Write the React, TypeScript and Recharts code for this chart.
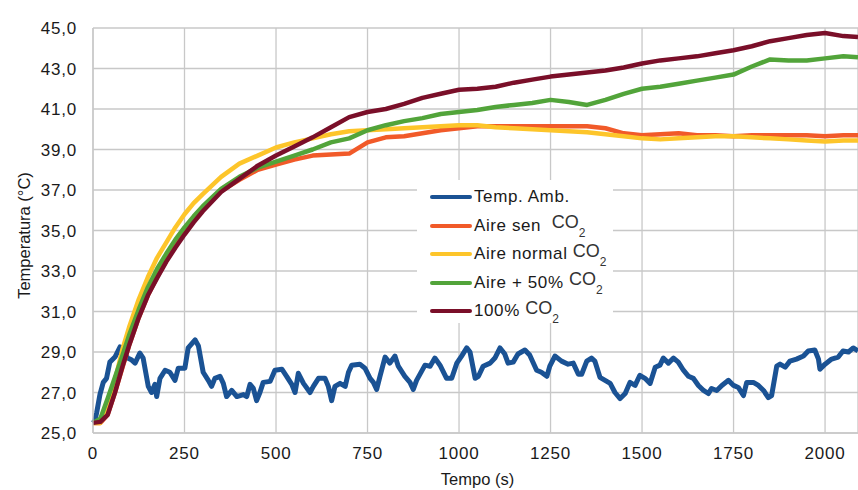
import { LineChart, Line, XAxis, YAxis, CartesianGrid, Legend } from 'recharts';

// Temp. Amb. (noisy, read at irregular times)
const ambTime = [
  0, 5, 10, 19, 28, 37, 46, 60, 74, 83, 95, 106, 115, 128, 137, 151, 160, 169, 174, 183,
  197, 210, 224, 233, 251, 260, 279, 288, 301, 315, 324, 333, 347, 356, 365, 379, 393, 411, 420, 429,
  438, 447, 456, 465, 484, 497, 516, 529, 543, 552, 561, 575, 593, 602, 616, 634, 643, 652, 661, 675,
  689, 698, 707, 729, 743, 757, 766, 775, 784, 798, 811, 825, 834, 852, 866, 875, 884, 907, 921, 934,
  948, 966, 980, 994, 1007, 1021, 1030, 1044, 1053, 1066, 1085, 1098, 1112, 1125, 1134, 1148, 1161, 1180, 1193, 1212,
  1225, 1240, 1248, 1262, 1280, 1298, 1312, 1326, 1335, 1349, 1362, 1371, 1385, 1399, 1413, 1426, 1440, 1454, 1467, 1481,
  1494, 1508, 1522, 1536, 1549, 1558, 1572, 1586, 1599, 1613, 1627, 1640, 1654, 1668, 1681, 1690, 1704, 1718, 1736, 1750,
  1763, 1777, 1786, 1804, 1818, 1832, 1845, 1854, 1868, 1877, 1891, 1904, 1922, 1941, 1954, 1972, 1982, 1986, 2000, 2018,
  2036, 2049, 2064, 2077, 2090,
];
const ambTemp = [
  25.5, 25.6, 26.0, 26.9, 27.5, 27.7, 28.5, 28.75, 29.25, 29.0, 28.7, 28.6, 28.45, 28.95, 28.7, 27.3, 27.0, 27.4, 26.8, 27.7,
  28.1, 28.0, 27.6, 28.2, 28.2, 29.2, 29.6, 29.3, 28.0, 27.6, 27.3, 27.7, 27.8, 27.45, 26.8, 27.1, 26.8, 26.9, 26.8, 27.4,
  27.2, 26.6, 27.0, 27.5, 27.55, 28.1, 28.15, 27.8, 27.4, 27.0, 27.95, 27.45, 27.0, 27.3, 27.7, 27.7, 27.3, 26.6, 27.3, 27.45,
  27.3, 28.0, 28.35, 28.4, 28.2, 27.7, 27.5, 27.15, 27.8, 28.75, 28.45, 28.8, 28.3, 27.8, 27.5, 27.15, 27.6, 28.35, 28.3, 28.7,
  28.35, 27.7, 27.7, 28.45, 28.8, 29.2, 29.0, 27.7, 27.8, 28.3, 28.45, 28.7, 29.2, 28.9, 28.45, 28.5, 28.9, 29.1, 28.85, 28.1,
  28.0, 27.8, 28.3, 28.8, 28.55, 28.4, 28.45, 27.9, 27.9, 28.55, 28.7, 28.55, 27.75, 27.6, 27.45, 27.0, 26.7, 26.95, 27.5, 27.35,
  27.85, 27.7, 27.45, 28.25, 28.35, 28.7, 28.45, 28.7, 28.5, 28.1, 27.8, 27.7, 27.35, 27.1, 26.95, 27.2, 27.1, 27.35, 27.6, 27.35,
  27.25, 26.85, 27.5, 27.5, 27.35, 27.1, 26.75, 26.85, 28.3, 28.4, 28.25, 28.55, 28.65, 28.8, 29.05, 29.1, 28.65, 28.15, 28.4, 28.65,
  28.75, 29.05, 29.0, 29.2, 29.05,
];

// heating curves, read on a common time grid
const curveTime = [
  0, 20, 40, 60, 80, 100, 125, 150, 175, 200, 225, 250, 275, 300, 350, 400, 450, 500, 550, 600,
  650, 700, 750, 800, 850, 900, 950, 1000, 1050, 1100, 1150, 1200, 1250, 1300, 1350, 1400, 1450, 1500, 1550, 1600,
  1650, 1700, 1750, 1800, 1850, 1900, 1950, 2000, 2050, 2090,
];
const aireSen = [
  25.5, 25.5, 25.9, 27.0, 28.2, 29.4, 30.7, 31.8, 32.7, 33.5, 34.25, 34.9, 35.5, 36.05, 36.95, 37.5, 38.0, 38.25, 38.5, 38.7,
  38.75, 38.8, 39.35, 39.6, 39.65, 39.8, 39.95, 40.05, 40.15, 40.15, 40.15, 40.15, 40.15, 40.15, 40.15, 40.05, 39.8, 39.7, 39.75, 39.8,
  39.7, 39.7, 39.65, 39.7, 39.7, 39.7, 39.7, 39.65, 39.7, 39.7,
];
const aireNormal = [
  25.5, 25.5, 26.3, 27.6, 29.1, 30.3, 31.6, 32.7, 33.65, 34.4, 35.15, 35.8, 36.35, 36.8, 37.65, 38.3, 38.7, 39.1, 39.35, 39.55,
  39.75, 39.9, 39.95, 40.0, 40.05, 40.1, 40.15, 40.2, 40.2, 40.1, 40.05, 40.0, 39.95, 39.9, 39.85, 39.75, 39.65, 39.55, 39.5, 39.55,
  39.6, 39.65, 39.65, 39.6, 39.55, 39.5, 39.45, 39.4, 39.45, 39.45,
];
const aireMais50 = [
  25.5, 25.7, 26.7, 27.75, 28.8, 29.9, 31.1, 32.2, 33.1, 33.85, 34.55, 35.15, 35.7, 36.2, 37.05, 37.65, 38.1, 38.4, 38.7, 39.0,
  39.35, 39.55, 39.95, 40.2, 40.4, 40.55, 40.75, 40.85, 40.95, 41.1, 41.2, 41.3, 41.45, 41.35, 41.2, 41.45, 41.75, 42.0, 42.1, 42.25,
  42.4, 42.55, 42.7, 43.1, 43.45, 43.4, 43.4, 43.5, 43.6, 43.55,
];
const co2Cen = [
  25.5, 25.55, 25.9, 27.0, 28.25, 29.4, 30.7, 31.8, 32.65, 33.45, 34.15, 34.8, 35.4, 35.95, 36.9, 37.55, 38.2, 38.7, 39.15, 39.6,
  40.1, 40.6, 40.85, 41.0, 41.25, 41.55, 41.75, 41.95, 42.0, 42.1, 42.3, 42.45, 42.6, 42.7, 42.8, 42.9, 43.05, 43.25, 43.4, 43.5,
  43.6, 43.75, 43.9, 44.1, 44.35, 44.5, 44.65, 44.75, 44.6, 44.55,
];

const seriesNames = ['Temp. Amb.', 'Aire sen  CO2', 'Aire normal CO2', 'Aire + 50% CO2', '100% CO2'];
const xTicks = [0, 250, 500, 750, 1000, 1250, 1500, 1750, 2000];
const yTicks = [25, 27, 29, 31, 33, 35, 37, 39, 41, 43, 45];

const ambData = ambTime.map((t, i) => ({ t, v: ambTemp[i] }));
const curveData = curveTime.map((t, i) => ({
  t,
  sen: aireSen[i],
  normal: aireNormal[i],
  mais: aireMais50[i],
  cen: co2Cen[i],
}));

const FONT = '"Liberation Sans", Arial, sans-serif';

function LegendBox(props: any) {
  const payload = [...(props.payload || [])].sort(
    (a: any, b: any) => seriesNames.indexOf(a.value) - seriesNames.indexOf(b.value),
  );
  return (
    <div
      style={{
        background: '#fff',
        width: 196,
        height: 143,
        paddingTop: 3,
        paddingLeft: 13,
        boxSizing: 'border-box',
        fontFamily: FONT,
        color: '#1a1a1a',
      }}
    >
      {payload.map((p: any) => {
        const name: string = p.value;
        const parts = name.split('CO2');
        return (
          <div key={name} style={{ display: 'flex', alignItems: 'center', height: 28.5 }}>
            <span style={{ display: 'inline-block', width: 42, height: 4, background: p.color, borderRadius: 2 }} />
            <span style={{ marginLeft: 2, fontSize: 17, letterSpacing: 0.6, whiteSpace: 'pre' }}>{parts[0]}</span>
            {parts.length > 1 && (
              <span style={{ fontSize: 18, position: 'relative', top: -3, color: '#333' }}>
                CO<span style={{ fontSize: 12, position: 'relative', top: 9 }}>2</span>
              </span>
            )}
          </div>
        );
      })}
    </div>
  );
}

function YTitle(props: any) {
  const vb = props.viewBox;
  const x = vb.x + 24;
  const y = vb.y + vb.height / 2 + 5;
  return (
    <text x={x} y={y} transform={`rotate(-90, ${x}, ${y})`} textAnchor="middle" dominantBaseline="central"
      fontSize={16.5} fontFamily={FONT} fill="#1a1a1a">
      Temperatura (°C)
    </text>
  );
}

function XTitle(props: any) {
  const vb = props.viewBox;
  return (
    <text x={vb.x + vb.width / 2 + 2} y={vb.y + 52} textAnchor="middle" fontSize={16.5} fontFamily={FONT} fill="#1a1a1a">
      Tempo (s)
    </text>
  );
}

export default function App() {
  const tick = { fontSize: 17, fill: '#1a1a1a', fontFamily: FONT, letterSpacing: 0.8 };
  return (
    <div style={{ position: 'absolute', left: 0, top: 0, width: 858, height: 490, overflow: 'hidden', background: '#fff' }}>
      <LineChart width={858} height={490} margin={{ top: 28, right: 0, left: 0, bottom: 0 }}>
        <CartesianGrid stroke="#c8c8c8" strokeWidth={1.3} />
        <XAxis
          type="number"
          dataKey="t"
          domain={[0, 2090]}
          ticks={xTicks}
          height={57}
          tick={tick}
          tickLine={false}
          tickSize={0}
          tickMargin={14}
          axisLine={{ stroke: '#c8c8c8', strokeWidth: 1.3 }}
          label={<XTitle />}
        />
        <YAxis
          type="number"
          domain={[25, 45]}
          ticks={yTicks}
          width={93}
          tick={tick}
          tickLine={false}
          tickSize={0}
          tickMargin={16}
          axisLine={{ stroke: '#c8c8c8', strokeWidth: 1.3 }}
          tickFormatter={(v: number) => v.toFixed(1).replace('.', ',')}
          label={<YTitle />}
        />
        <Legend
          layout="vertical"
          align="center"
          verticalAlign="middle"
          content={LegendBox}
          wrapperStyle={{ left: 417, top: 180, width: 196, height: 143 }}
        />
        <Line data={ambData} dataKey="v" name={seriesNames[0]} stroke="#1a5294" strokeWidth={5} strokeLinejoin="round" dot={false} isAnimationActive={false} />
        <Line data={curveData} dataKey="sen" name={seriesNames[1]} stroke="#f15a29" strokeWidth={4.5} strokeLinejoin="round" dot={false} isAnimationActive={false} />
        <Line data={curveData} dataKey="normal" name={seriesNames[2]} stroke="#fdc52a" strokeWidth={4.5} strokeLinejoin="round" dot={false} isAnimationActive={false} />
        <Line data={curveData} dataKey="mais" name={seriesNames[3]} stroke="#52a43a" strokeWidth={4.5} strokeLinejoin="round" dot={false} isAnimationActive={false} />
        <Line data={curveData} dataKey="cen" name={seriesNames[4]} stroke="#7a0f29" strokeWidth={4.5} strokeLinejoin="round" dot={false} isAnimationActive={false} />
      </LineChart>
    </div>
  );
}
